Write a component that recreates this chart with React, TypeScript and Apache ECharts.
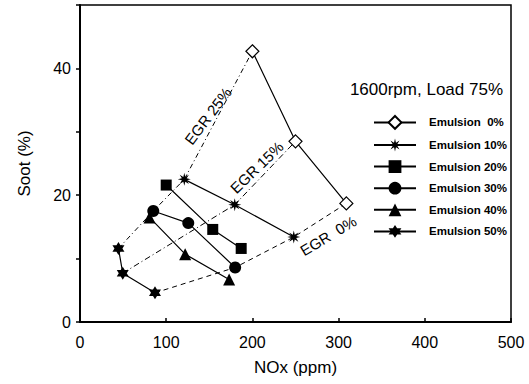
import React, { useEffect, useRef } from "react";
import * as echarts from "echarts";

// Emulsion series: [NOx (ppm), Soot (%)]
const emul0: number[][] = [[200, 42.7], [250, 28.5], [309, 18.7]];
const emul10: number[][] = [[121, 22.5], [179.5, 18.5], [248, 13.4]];
const emul20: number[][] = [[100, 21.6], [154, 14.6], [187, 11.6]];
const emul30: number[][] = [[85, 17.5], [125.6, 15.6], [180, 8.6]];
const emul40: number[][] = [[80.6, 16.5], [122, 10.7], [173, 6.7]];
const emul50: number[][] = [[44.6, 11.6], [49.6, 7.7], [87, 4.6]];

// EGR iso-lines
const egr25: number[][] = [[44.6, 11.6], [85, 17.5], [121, 22.5], [200, 42.7]];
const egr15: number[][] = [[49.6, 7.7], [179.5, 18.5], [250, 28.5]];
const egr0: number[][] = [[87, 4.6], [180, 8.6], [248, 13.4], [309, 18.7]];

const legendNames = [
  "Emulsion  0%",
  "Emulsion 10%",
  "Emulsion 20%",
  "Emulsion 30%",
  "Emulsion 40%",
  "Emulsion 50%",
];

// Annotation labels: text, data position, rotation (deg)
const egrLabels: { text: string; at: number[]; rot: number }[] = [
  { text: "EGR 25%", at: [148.5, 32.5], rot: 53 },
  { text: "EGR 15%", at: [205, 24.4], rot: 44 },
  { text: "EGR  0%", at: [288, 13.6], rot: 31 },
];

const xTicks = { min: 0, max: 500, interval: 100 };
const yTicks = { min: 0, max: 50, interval: 10 };

const STAR8 =
  "path://M10,0L11.53,6.3L17.07,2.93L13.7,8.47L20,10L13.7,11.53L17.07,17.07L11.53,13.7L10,20L8.47,13.7L2.93,17.07L6.3,11.53L0,10L6.3,8.47L2.93,2.93L8.47,6.3Z";
const STAR6 =
  "path://M10,0L12.89,5L18.66,5L15.77,10L18.66,15L12.89,15L10,20L7.11,15L1.34,15L4.23,10L1.34,5L7.11,5Z";

const FONT = "'Liberation Sans', Arial, sans-serif";

export default function App() {
  const ref = useRef<HTMLDivElement>(null);
  useEffect(() => {
    if (!ref.current) return;
    const chart = echarts.init(ref.current, undefined, { renderer: "svg" });
    const lineStyle = { color: "#000", width: 1.2 };
    const mk = (name: string, data: number[][], symbol: string, size: any, fill: string) => ({
      type: "line",
      name,
      data,
      symbol,
      symbolSize: size,
      showAllSymbol: true,
      lineStyle: { ...lineStyle },
      itemStyle: { color: fill, borderColor: "#000", borderWidth: fill === "#fff" ? 1.2 : 0 },
      z: 5,
    });
    const egr = (data: number[][], dash: number[]) => ({
      type: "line",
      name: "egr",
      data,
      symbol: "none",
      lineStyle: { color: "#000", width: 1, type: dash },
      z: 3,
      silent: true,
    });
    chart.setOption({
      animation: false,
      backgroundColor: "#fff",
      textStyle: { fontFamily: FONT, color: "#000" },
      grid: {
        left: 80,
        right: 18,
        top: 5,
        bottom: 62,
        show: true,
        borderColor: "#000",
        borderWidth: 1.5,
      },
      title: {
        text: "1600rpm, Load 75%",
        right: 21,
        top: 76,
        textStyle: { fontFamily: FONT, fontSize: 17, fontWeight: "normal", color: "#000" },
      },
      legend: {
        data: legendNames,
        orient: "vertical",
        left: 373,
        top: 115,
        itemWidth: 42,
        itemHeight: 16,
        itemGap: 8.8,
        padding: 0,
        textStyle: {
          fontFamily: FONT,
          fontSize: 11.5,
          fontWeight: "bold",
          color: "#000",
          padding: [0, 0, 0, 8],
        },
      },
      xAxis: {
        type: "value",
        ...xTicks,
        name: "NOx (ppm)",
        nameLocation: "middle",
        nameGap: 37,
        nameTextStyle: { fontFamily: FONT, fontSize: 17, color: "#000" },
        splitLine: { show: false },
        axisLine: { lineStyle: { color: "#000", width: 2 } },
        axisTick: { inside: true, length: 4, lineStyle: { color: "#000", width: 1.5 } },
        axisLabel: { fontFamily: FONT, fontSize: 16, color: "#000", margin: 12 },
      },
      yAxis: {
        type: "value",
        ...yTicks,
        name: "Soot (%)",
        nameLocation: "middle",
        nameGap: 47,
        nameTextStyle: { fontFamily: FONT, fontSize: 17, color: "#000" },
        splitLine: { show: false },
        axisLine: { lineStyle: { color: "#000", width: 2 } },
        axisTick: { length: 4, lineStyle: { color: "#000", width: 1.5 } },
        axisLabel: {
          fontFamily: FONT,
          fontSize: 16,
          color: "#000",
          margin: 9,
          formatter: (v: number) => (v % 20 === 0 ? String(v) : ""),
        },
      },
      series: [
        egr(egr25, [5, 3, 1, 3]),
        egr(egr15, [6, 3, 1, 3]),
        egr(egr0, [5, 4]),
        mk(legendNames[0], emul0, "diamond", [13, 13], "#fff"),
        mk(legendNames[1], emul10, STAR8, 13, "#000"),
        mk(legendNames[2], emul20, "rect", 11, "#000"),
        mk(legendNames[3], emul30, "circle", 12, "#000"),
        mk(legendNames[4], emul40, "triangle", 12, "#000"),
        mk(legendNames[5], emul50, STAR6, [12, 13], "#000"),
      ],
    });
    const graphics = egrLabels.map((l) => {
      const p = chart.convertToPixel({ gridIndex: 0 }, l.at) as number[];
      return {
        type: "text",
        x: p[0],
        y: p[1],
        rotation: (l.rot * Math.PI) / 180,
        style: {
          text: l.text,
          fontFamily: FONT,
          fontSize: 15,
          fill: "#000",
          align: "center",
          verticalAlign: "middle",
        },
        z: 10,
      };
    });
    chart.setOption({ graphic: graphics });
    return () => chart.dispose();
  }, []);
  return (
    <div
      ref={ref}
      style={{ position: "fixed", left: 0, top: 0, width: 529, height: 384 }}
    />
  );
}
